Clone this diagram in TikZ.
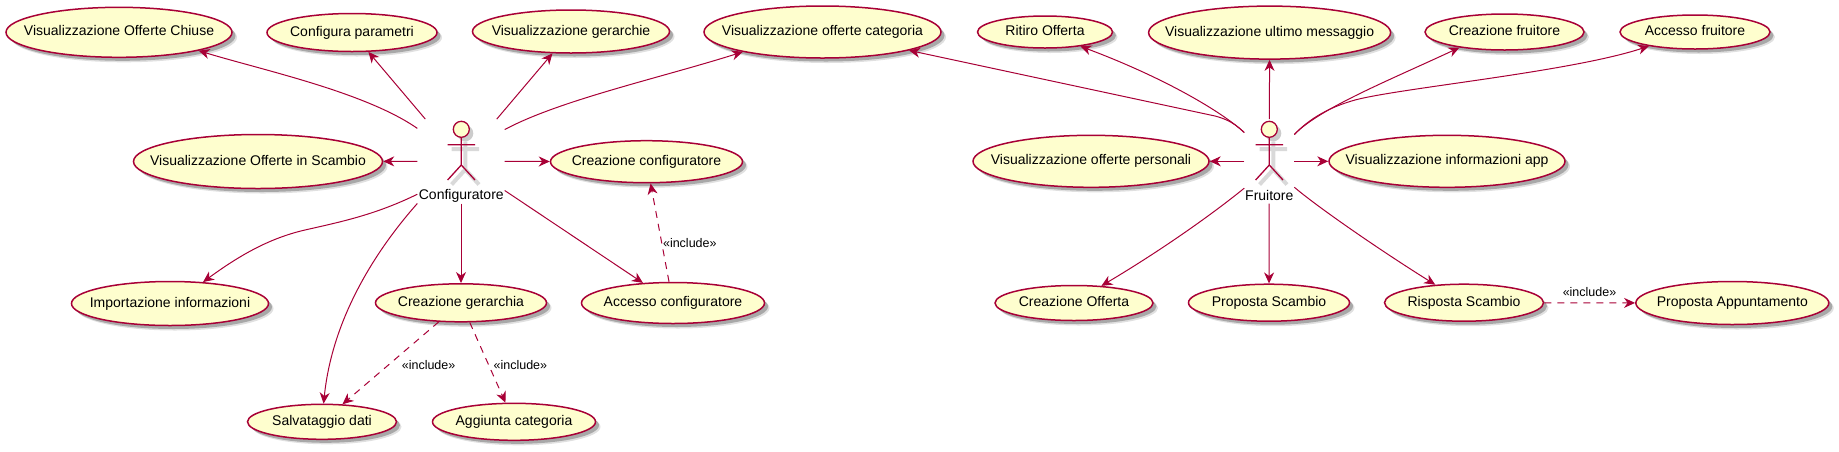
\documentclass[tikz,border=0pt]{standalone}
\usepackage{fontspec}
\setmainfont{Liberation Sans}
\usetikzlibrary{arrows.meta,shapes.geometric,shadows}
\definecolor{umlline}{HTML}{A80036}
\definecolor{umlfill}{HTML}{FEFECE}
\newcommand{\uc}[1]{\makebox[0pt]{#1}}

\begin{document}
\begin{tikzpicture}[x=1pt, y=-1pt, >={Stealth[length=11pt, width=10pt, inset=3.5pt]},
  usecase/.style = {draw=umlline, fill=umlfill, ellipse, line width=1.5pt, inner sep=0pt, text height=10pt, text depth=3pt,
    font=\fontsize{14}{16}\selectfont,
    drop shadow={shadow xshift=5pt, shadow yshift=-5pt, fill=black, opacity=.12},
    drop shadow={shadow xshift=3.5pt, shadow yshift=-3.5pt, fill=black, opacity=.25}},
  ucsize/.style 2 args = {minimum width=#1pt, minimum height=#2pt},
  actorbox/.style = {rectangle, inner sep=0pt, minimum height=84pt},
  actorname/.style = {inner sep=0pt, font=\fontsize{14}{16}\selectfont},
  stereo/.style = {inner sep=0pt, font=\fontsize{12.5}{14}\selectfont},
  link/.style = {->, draw=umlline, line width=1pt},
  dep/.style = {link, dash pattern=on 7pt off 6pt},
  actor/.pic = {
    \draw[black!15, line width=4pt] (-9.7,19.9) -- (17.7,19.9) (4,12) -- (4,40.2) -- (-9.7,55.2) (4,40.2) -- (17.7,55.2);
    \fill[black!20] (4,4) circle (8);
    \draw[umlline, fill=umlfill, line width=1.3pt] (0,0) circle (8);
    \draw[umlline, line width=1.3pt] (-13.7,15.4) -- (13.7,15.4) (0,8) -- (0,35.7) -- (-13.7,50.7) (0,35.7) -- (13.7,50.7);
  }]
\useasboundingbox (0,0) rectangle (1839,451);

\node[usecase, ucsize={226}{50}] (chiuse) at (119,32.3) {\uc{Visualizzazione Offerte Chiuse}};
\node[usecase, ucsize={170}{38}] (parametri) at (352,32.5) {\uc{Configura parametri}};
\node[usecase, ucsize={197}{43}] (gerarchie) at (571,31.5) {\uc{Visualizzazione gerarchie}};
\node[usecase, ucsize={237}{52}] (categoria) at (822.5,32) {\uc{Visualizzazione offerte categoria}};
\node[usecase, ucsize={135}{32}] (ritiro) at (1045,32) {\uc{Ritiro Offerta}};
\node[usecase, ucsize={242}{53}] (messaggio) at (1269.6,32.6) {\uc{Visualizzazione ultimo messaggio}};
\node[usecase, ucsize={159}{36}] (creafruitore) at (1504.5,32) {\uc{Creazione fruitore}};
\node[usecase, ucsize={150}{34}] (accfruitore) at (1695,32) {\uc{Accesso fruitore}};
\node[usecase, ucsize={249}{54}] (scambio) at (258,161.5) {\uc{Visualizzazione Offerte in Scambio}};
\node[usecase, ucsize={192}{42}] (creaconf) at (646.5,161.7) {\uc{Creazione configuratore}};
\node[usecase, ucsize={236}{52}] (personali) at (1091,161.3) {\uc{Visualizzazione offerte personali}};
\node[usecase, ucsize={236}{52}] (infoapp) at (1447,161.3) {\uc{Visualizzazione informazioni app}};
\node[usecase, ucsize={197}{44}] (importa) at (170,303.5) {\uc{Importazione informazioni}};
\node[usecase, ucsize={171}{38}] (creagerarchia) at (461,302.8) {\uc{Creazione gerarchia}};
\node[usecase, ucsize={183}{41}] (accconf) at (673,303) {\uc{Accesso configuratore}};
\node[usecase, ucsize={149}{35}] (salva) at (322,421.8) {\uc{Salvataggio dati}};
\node[usecase, ucsize={163}{37}] (aggiunta) at (514,421.8) {\uc{Aggiunta categoria}};
\node[usecase, ucsize={158}{35}] (creaofferta) at (1074,303) {\uc{Creazione Offerta}};
\node[usecase, ucsize={161}{37}] (proposta) at (1269,302.7) {\uc{Proposta Scambio}};
\node[usecase, ucsize={159}{37}] (risposta) at (1464,302.7) {\uc{Risposta Scambio}};
\node[usecase, ucsize={193}{43}] (appuntamento) at (1732.3,303) {\uc{Proposta Appuntamento}};

\node[actorbox, minimum width=87pt] (configuratore) at (461,161.3) {};
\node[actorbox, minimum width=49.7pt] (fruitore) at (1269.3,161.3) {};
\pic at (461.3,129.3) {actor};
\pic at (1269.3,129.3) {actor};
\node[actorname] (nomeconf) at (461.3,195.7) {Configuratore};
\node[actorname] (nomefru) at (1269.3,195.7) {Fruitore};

\draw[link] (configuratore.143.7) .. controls (365,92) and (262,70) .. (chiuse.-13);
\draw[link] (configuratore) -- (parametri);
\draw[link] (configuratore) -- (gerarchie);
\draw[link] (configuratore.36.3) .. controls (560,100) and (660,78) .. (categoria.194);
\draw[link] (configuratore) -- (scambio);
\draw[link] (configuratore) -- (creaconf);
\draw[link] (configuratore.-143) .. controls (375,215) and (340,222) .. (305,230) .. controls (270,238) and (240,255) .. (importa.33);
\draw[link] (configuratore.-136) .. controls (385,240) and (333,310) .. (salva.85);
\draw[link] (configuratore) -- (creagerarchia);
\draw[link] (configuratore) -- (accconf);
\draw[dep] (accconf) -- (creaconf);
\draw[dep] (creagerarchia) -- (salva);
\draw[dep] (creagerarchia) -- (aggiunta);

\draw[link] (fruitore.131.5) .. controls (1236,125) and (1230,120) .. (1215,116) -- (categoria.-12.5);
\draw[link] (fruitore.131.5) .. controls (1222,112) and (1165,78) .. (ritiro.-22);
\draw[link] (fruitore) -- (messaggio);
\draw[link] (fruitore.47.6) .. controls (1320,108) and (1390,80) .. (creafruitore.199.6);
\draw[link] (fruitore.47.6) .. controls (1310,118) and (1330,107) .. (1355,100) .. controls (1400,88) and (1570,72) .. (accfruitore.197);
\draw[link] (fruitore) -- (personali);
\draw[link] (fruitore) -- (infoapp);
\draw[link] (fruitore.227) .. controls (1220,208) and (1170,245) .. (creaofferta.32);
\draw[link] (fruitore) -- (proposta);
\draw[link] (fruitore.-46) .. controls (1315,205) and (1375,247) .. (risposta.148);
\draw[dep] (risposta) -- (appuntamento);

\node[stereo] (incl1) at (689.8,243.3) {«include»};
\node[stereo] (incl2) at (428.6,365) {«include»};
\node[stereo] (incl3) at (520.4,365) {«include»};
\node[stereo] (incl4) at (1589.5,291.7) {«include»};
\end{tikzpicture}
\end{document}
